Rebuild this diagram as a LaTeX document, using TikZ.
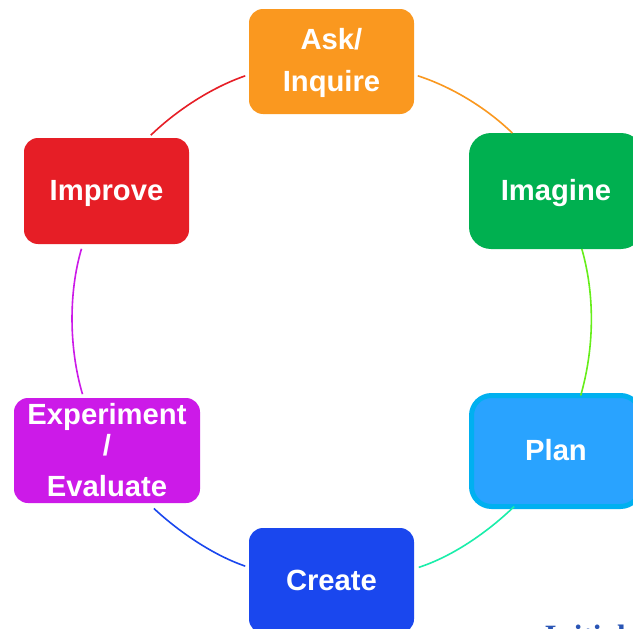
\documentclass[tikz,border=0pt]{standalone}
\usepackage{fontspec}
\setmainfont{Liberation Sans}
\newfontfamily\serifface{Liberation Serif}
\definecolor{cAsk}{HTML}{FA981F}
\definecolor{cImagine}{HTML}{00B050}
\definecolor{cPlanFill}{HTML}{29A3FF}
\definecolor{cPlanLine}{HTML}{00B0F0}
\definecolor{cCreate}{HTML}{1A47EE}
\definecolor{cExp}{HTML}{CC1AE8}
\definecolor{cImprove}{HTML}{E61E26}
\definecolor{cArcGreen}{HTML}{66EE1A}
\definecolor{cArcTeal}{HTML}{1AEEAA}
\definecolor{cInitial}{HTML}{2A55B5}
\tikzset{
  stagebox/.style={rectangle,rounded corners=#1,align=center,text=white,inner sep=0pt,outer sep=0pt,
    font=\fontsize{29.2}{42}\bfseries\selectfont},
  stagebox/.default=14pt,
  oneline/.style={text height=#1,text depth=0pt},
  cyclearc/.style={line width=1.6pt,looseness=0.85}
}
\begin{document}
\begin{tikzpicture}[x=1pt,y=-1pt]
\clip (0,0) rectangle (633,629);
\fill[white] (0,0) rectangle (633,629);
\node[stagebox,fill=cAsk,minimum width=165pt,minimum height=105pt] (ask) at (331.5,61.5) {\rule{0pt}{24pt}Ask/\\Inquire};
\node[stagebox=22pt,oneline=18pt,fill=cImagine,minimum width=174pt,minimum height=116pt] (imagine) at (556,191) {Imagine};
\node[stagebox=20pt,oneline=18pt,fill=cPlanFill,draw=cPlanLine,line width=5pt,minimum width=169pt,minimum height=111pt] (plan) at (556,451) {Plan};
\node[stagebox,oneline=19pt,fill=cCreate,minimum width=165pt,minimum height=105pt] (create) at (331.5,580.5) {Create};
\node[stagebox,fill=cExp,minimum width=186pt,minimum height=105pt,font=\fontsize{29.2}{31}\bfseries\selectfont] (exp) at (107,450.5) {Experiment\\/\\[10pt]Evaluate};
\node[stagebox,oneline=18pt,fill=cImprove,minimum width=165pt,minimum height=106pt] (improve) at (106.5,191) {Improve};
\node[anchor=base west,inner sep=0pt,text=cInitial,font=\fontsize{31}{31}\bfseries\serifface\selectfont] (initial) at (544.5,646.5) {Initial};
\draw[cyclearc,cAsk,shorten <=4pt] (ask.-9) to[out=-18,in=136] (imagine.127.8);
\draw[cyclearc,cArcGreen] (imagine.-66.7) to[out=-74,in=74] (plan.66.7);
\draw[cyclearc,cArcTeal,shorten >=5pt] (plan.-127.8) to[out=-136,in=18] (create.8.6);
\draw[cyclearc,cCreate,shorten <=4pt,shorten >=8pt] (create.171.4) to[out=161,in=-43] (exp.-52.7);
\draw[cyclearc,cExp,shorten <=4pt,shorten >=5pt] (exp.114.6) to[out=106.5,in=-106.5] (improve.-114);
\draw[cyclearc,cImprove,shorten <=4pt,shorten >=4pt] (improve.52.6) to[out=44,in=-161] (ask.-171);
\end{tikzpicture}
\end{document}
